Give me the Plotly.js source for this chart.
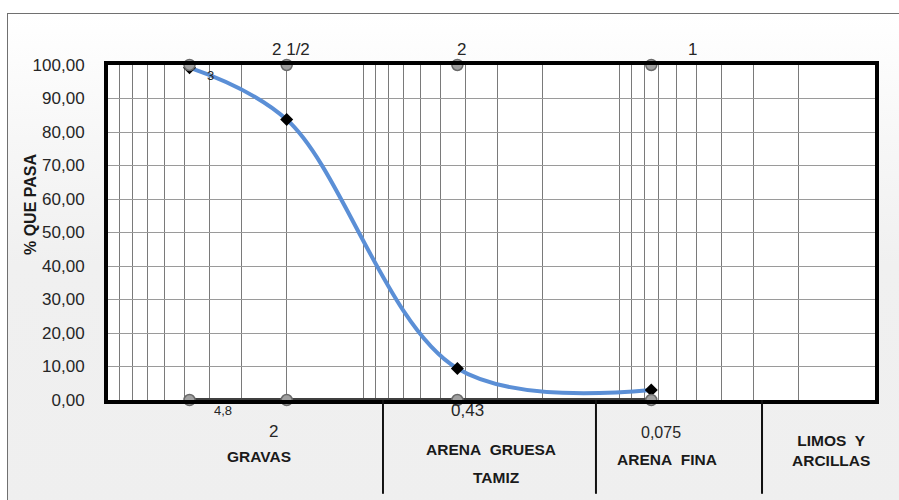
<!DOCTYPE html>
<html>
<head>
<meta charset="utf-8">
<script src="https://cdn.plot.ly/plotly-3.0.1.min.js"></script>
<style>
  html, body { margin: 0; padding: 0; background: #ffffff; }
  #wrap { position: relative; width: 899px; height: 500px; overflow: hidden; }
  #panel {
    position: absolute; left: 7px; top: 13px; width: 900px; height: 500px;
    border-left: 1px solid #707070; border-top: 1px solid #707070;
    background: linear-gradient(to bottom, #ffffff 0%, #f7f7f7 25%, #f0f0f0 50%, #efefef 100%);
  }
  #chart { position: absolute; left: 0; top: 0; width: 899px; height: 500px; }
</style>
</head>
<body>
<div id="wrap">
  <div id="panel"></div>
  <div id="chart"></div>
</div>
<script>
// Granulometría: abertura de tamiz (mm) y porcentaje que pasa
const sieveSize = [4.8, 2, 0.43, 0.075];
const percentPassing = [99.2, 83.7, 9.4, 3.0];

// Marcas de referencia de los tamices, arriba (100 %) y abajo (0 %)
const topRow = [100, 100, 100, 100];
const bottomRow = [0, 0, 0, 0];
const topLabels = ['3', '2 1/2', '2', '1'];
const bottomLabels = ['4,8', '2', '0,43', '0,075'];

// Zonas de clasificación bajo el eje
const zoneLabels = ['GRAVAS', 'ARENA\u00a0 GRUESA', 'TAMIZ', 'ARENA\u00a0 FINA', 'LIMOS\u00a0 Y<br>ARCILLAS'];

// Eje Y: 0 a 100 cada 10
const yTicks = [0, 10, 20, 30, 40, 50, 60, 70, 80, 90, 100];

const FONT = 'Liberation Sans, Arial, sans-serif';

// Líneas de la cuadrícula logarítmica (1..9 × 10^n) entre 0,01 y 10 mm
const logGrid = [];
for (let d = -2; d <= 0; d++) {
  for (let k = 1; k <= 9; k++) logGrid.push(+(k * Math.pow(10, d)).toPrecision(3));
}
logGrid.push(10);

const curve = {
  x: sieveSize, y: percentPassing,
  type: 'scatter', mode: 'lines+markers',
  line: { color: '#5b8fd6', width: 4, shape: 'spline', smoothing: 1 },
  marker: { symbol: 'diamond', color: '#000000', size: 10 },
  cliponaxis: false, hoverinfo: 'x+y'
};

const topMarks = {
  x: sieveSize, y: topRow,
  type: 'scatter', mode: 'markers',
  marker: { symbol: 'circle', color: '#a0a0a0', size: 11, line: { color: '#6a6a6a', width: 1.5 } },
  cliponaxis: false, hoverinfo: 'skip'
};

const bottomMarks = {
  x: sieveSize, y: bottomRow,
  type: 'scatter', mode: 'lines+markers',
  line: { color: '#404040', width: 4 },
  marker: { symbol: 'circle', color: '#a0a0a0', size: 11, line: { color: '#6a6a6a', width: 1.5 } },
  cliponaxis: false, hoverinfo: 'skip'
};

// Desplazamientos de las etiquetas de cada tamiz (px) y tamaño de letra
const topShift = [[21, -10, 13], [4, 16, 17], [4, 16, 17], [41, 16, 17]];
const bottomShift = [[33, -10, 13], [-13, -31, 17], [10, -10, 17], [10, -32, 16]];

const annotations = [];
sieveSize.forEach((s, i) => {
  annotations.push({
    x: Math.log10(s), y: topRow[i], xref: 'x', yref: 'y',
    xanchor: 'center', yanchor: 'middle',
    text: topLabels[i], showarrow: false,
    xshift: topShift[i][0], yshift: topShift[i][1],
    font: { family: FONT, size: topShift[i][2], color: '#262626' }
  });
  annotations.push({
    x: Math.log10(s), y: bottomRow[i], xref: 'x', yref: 'y',
    xanchor: 'center', yanchor: 'middle',
    text: bottomLabels[i], showarrow: false,
    xshift: bottomShift[i][0], yshift: bottomShift[i][1],
    font: { family: FONT, size: bottomShift[i][2], color: '#262626' }
  });
});

// Posición (paper) de los rótulos de zona
const zonePos = [[0.197, -0.17], [0.499, -0.149], [0.507, -0.231], [0.729, -0.179], [0.943, -0.15]];
zoneLabels.forEach((t, i) => {
  annotations.push({
    x: zonePos[i][0], y: zonePos[i][1], xref: 'paper', yref: 'paper',
    xanchor: 'center', yanchor: 'middle',
    text: '<b>' + t + '</b>', showarrow: false,
    font: { family: FONT, size: 15.5, color: '#1a1a1a' }, align: 'center'
  });
});

// Título del eje Y
annotations.push({
  x: -0.1017, y: 0.585, xref: 'paper', yref: 'paper',
  xanchor: 'center', yanchor: 'middle',
  text: '<b>% QUE PASA</b>', textangle: -90, showarrow: false,
  font: { family: FONT, size: 16, color: '#1a1a1a' }
});

// Separadores verticales de zonas
const separators = [0.3585, 0.6362, 0.8527].map(xp => ({
  type: 'line', xref: 'paper', yref: 'paper',
  x0: xp, x1: xp, y0: 0, y1: -0.28,
  line: { color: '#111111', width: 2 }
}));

const layout = {
  width: 899, height: 500,
  margin: { l: 108, r: 24, t: 65, b: 100 },
  paper_bgcolor: 'rgba(0,0,0,0)',
  plot_bgcolor: '#ffffff',
  separators: ',.',
  showlegend: false,
  font: { family: FONT, color: '#262626' },
  xaxis: {
    type: 'log', range: [1, -2],
    tickmode: 'array', tickvals: logGrid, showticklabels: false, ticks: '',
    showgrid: true, gridcolor: '#7a7a7a', gridwidth: 1,
    zeroline: false,
    showline: true, mirror: true, linecolor: '#000000', linewidth: 4
  },
  yaxis: {
    range: [0, 100],
    tickmode: 'array', tickvals: yTicks, tickformat: '.2f',
    ticks: 'outside', ticklen: 16, tickcolor: 'rgba(0,0,0,0)',
    tickfont: { family: FONT, size: 17, color: '#262626' },
    showgrid: true, gridcolor: '#9a9a9a', gridwidth: 1,
    zeroline: false,
    showline: true, mirror: true, linecolor: '#000000', linewidth: 4
  },
  annotations: annotations,
  shapes: separators
};

Plotly.newPlot('chart', [curve, bottomMarks, topMarks], layout, { staticPlot: true, displayModeBar: false });
</script>
</body>
</html>
